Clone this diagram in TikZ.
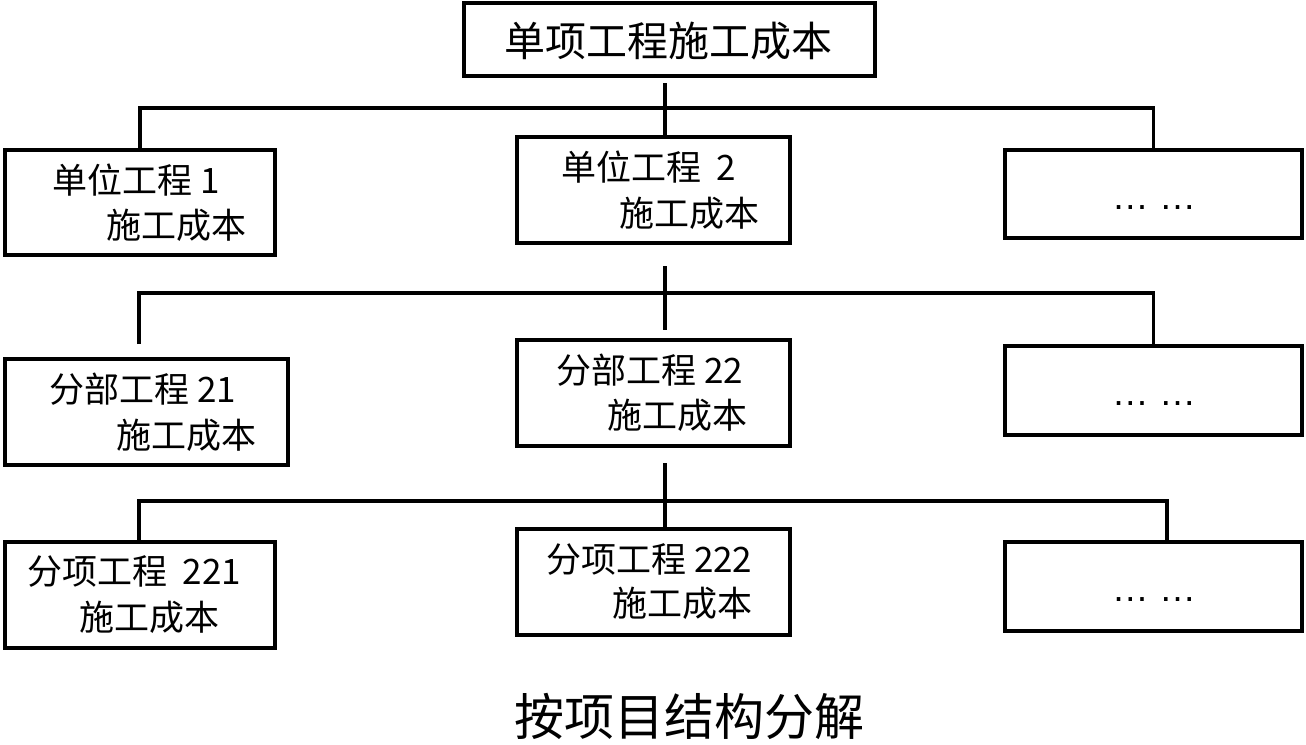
\documentclass[tikz,border=0pt]{standalone}
\usepackage{fontspec}
\setmainfont{Noto Sans CJK SC}
\newfontfamily\dotfont{Liberation Sans}
\begin{document}
\begin{tikzpicture}[x=1pt,y=-1pt,
  box/.style={draw, line width=3.5pt, line join=miter, inner sep=0pt, minimum width=#1},
  conn/.style={line width=3.5pt, line join=miter},
  lbl/.style={anchor=west, inner sep=0pt, font=\fontsize{35}{40}\selectfont},
  dots/.style={anchor=base, inner sep=0pt, font=\dotfont\fontsize{37}{40}\selectfont}]
\useasboundingbox (0,0) rectangle (1306,744);
% boxes
\node[box=411pt, minimum height=73pt] (top) at (669.5,39.5) {};
\node[box=270pt, minimum height=105pt] (r1l) at (140,202.5) {};
\node[box=273pt, minimum height=106pt] (r1m) at (653.5,190) {};
\node[box=297pt, minimum height=88pt] (r1r) at (1153.5,194) {};
\node[box=283pt, minimum height=106pt] (r2l) at (146.5,412) {};
\node[box=273pt, minimum height=106pt] (r2m) at (653.5,393) {};
\node[box=297pt, minimum height=89pt] (r2r) at (1153.5,390.5) {};
\node[box=270pt, minimum height=106pt] (r3l) at (140,595) {};
\node[box=273pt, minimum height=106pt] (r3m) at (653.5,582) {};
\node[box=297pt, minimum height=89pt] (r3r) at (1153.5,586.5) {};
% texts
\node[anchor=west, inner sep=0pt, font=\fontsize{41}{46}\selectfont] (ttop) at (504,41) {单项工程施工成本};
\node[lbl] (t1la) at (52,180) {单位工程 1};
\node[lbl] (t1lb) at (106,225) {施工成本};
\node[lbl] (t1ma) at (561,167) {单位工程\ \ 2};
\node[lbl] (t1mb) at (619,213) {施工成本};
\node[dots] (t1r) at (1154,209.5) {… …};
\node[lbl] (t2la) at (49,389) {分部工程 21};
\node[lbl] (t2lb) at (116,435) {施工成本};
\node[lbl] (t2ma) at (556,370) {分部工程 22};
\node[lbl] (t2mb) at (607,415) {施工成本};
\node[dots] (t2r) at (1154,405.5) {… …};
\node[lbl] (t3la) at (27,571) {分项工程\ \ 221};
\node[lbl] (t3lb) at (79,617) {施工成本};
\node[lbl] (t3ma) at (546,559) {分项工程 222};
\node[lbl] (t3mb) at (612,603) {施工成本};
\node[dots] (t3r) at (1154,601.5) {… …};
\node[inner sep=0pt, font=\fontsize{50}{56}\selectfont] (cap) at (689,716.5) {按项目结构分解};
% connectors
\coordinate (c1) at (665,83);
\coordinate (h1) at (665,108);
\draw[conn] (c1) -- (c1 |- r1m.north);
\draw[conn] (r1l.north) -- (r1l.north |- h1) -- (r1r.north |- h1) -- (r1r.north);
\coordinate (c2a) at (665,266);
\coordinate (c2b) at (665,330);
\coordinate (h2) at (665,293);
\coordinate (d2l) at (139,344);
\draw[conn] (c2a) -- (c2b);
\draw[conn] (d2l) |- (h2) -| (r2r.north);
\coordinate (c3) at (665,463);
\coordinate (h3) at (665,501);
\coordinate (d3l) at (139,501);
\coordinate (d3r) at (1167,501);
\draw[conn] (c3) -- (c3 |- r3m.north);
\draw[conn] (d3l |- r3l.north) -- (d3l) -- (d3r) -- (d3r |- r3r.north);
\end{tikzpicture}
\end{document}
